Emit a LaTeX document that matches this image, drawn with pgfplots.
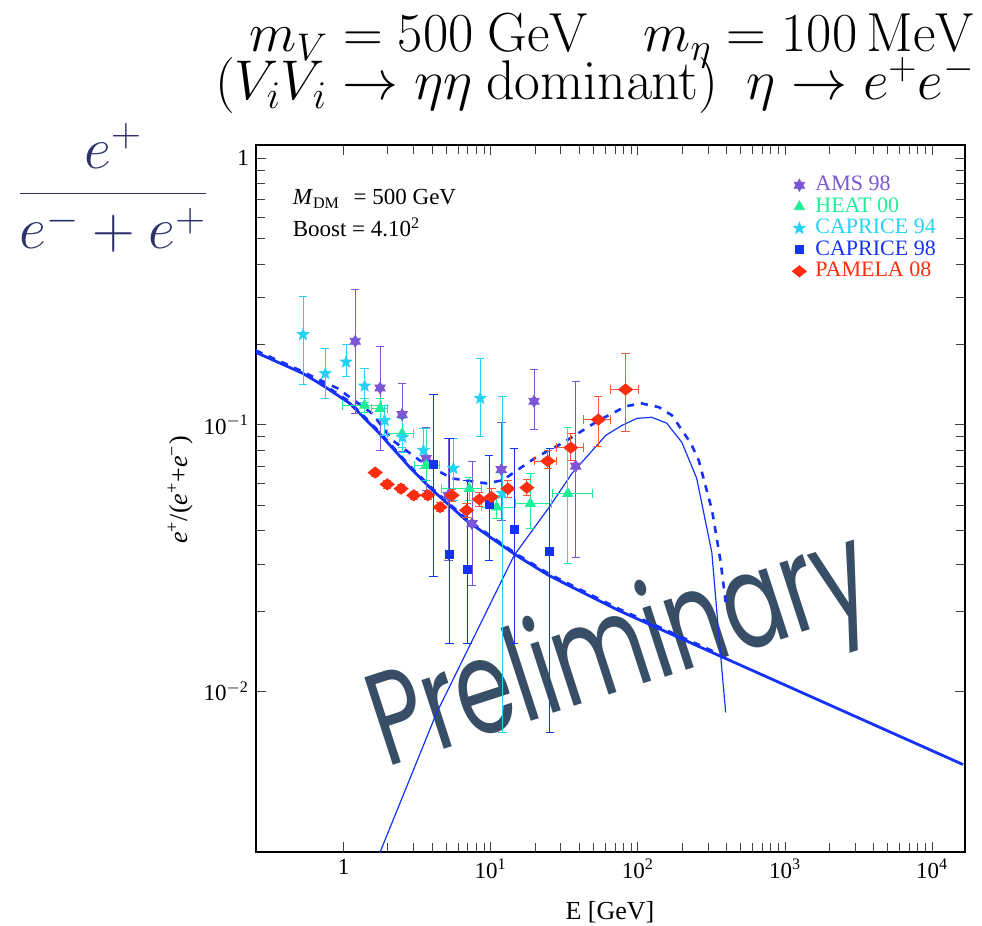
\RequirePackage{fix-cm}
\documentclass[border=0pt]{standalone}
\usepackage[no-math]{fontspec}
\setmainfont{Liberation Serif}
\newfontfamily\wmfont{Poppins}
\usepackage{pgfplots}
\pgfplotsset{compat=1.18}
\usepackage{pgfplotstable}

\definecolor{amsc}{RGB}{125,85,215}
\definecolor{heatc}{RGB}{30,238,150}
\definecolor{cap94}{RGB}{35,210,245}
\definecolor{cap98}{RGB}{20,50,250}
\definecolor{pamc}{RGB}{255,45,15}
\definecolor{pamerr}{RGB}{255,85,55}
\definecolor{curvec}{RGB}{20,50,250}
\definecolor{navy}{RGB}{45,50,105}
\definecolor{wm}{RGB}{55,78,102}

\pgfdeclareplotmark{hexstar}{%
  \pgfpathmoveto{\pgfqpoint{0pt}{\pgfplotmarksize}}%
  \pgfpathlineto{\pgfqpoint{0.866\pgfplotmarksize}{-0.5\pgfplotmarksize}}%
  \pgfpathlineto{\pgfqpoint{-0.866\pgfplotmarksize}{-0.5\pgfplotmarksize}}%
  \pgfpathclose
  \pgfpathmoveto{\pgfqpoint{0pt}{-\pgfplotmarksize}}%
  \pgfpathlineto{\pgfqpoint{-0.866\pgfplotmarksize}{0.5\pgfplotmarksize}}%
  \pgfpathlineto{\pgfqpoint{0.866\pgfplotmarksize}{0.5\pgfplotmarksize}}%
  \pgfpathclose
  \pgfusepathqfillstroke}
\pgfdeclareplotmark{fstar}{%
  \pgfpathmoveto{\pgfpointpolar{90}{\pgfplotmarksize}}%
  \pgfpathlineto{\pgfpointpolar{126}{0.42\pgfplotmarksize}}%
  \pgfpathlineto{\pgfpointpolar{162}{\pgfplotmarksize}}%
  \pgfpathlineto{\pgfpointpolar{198}{0.42\pgfplotmarksize}}%
  \pgfpathlineto{\pgfpointpolar{234}{\pgfplotmarksize}}%
  \pgfpathlineto{\pgfpointpolar{270}{0.42\pgfplotmarksize}}%
  \pgfpathlineto{\pgfpointpolar{306}{\pgfplotmarksize}}%
  \pgfpathlineto{\pgfpointpolar{342}{0.42\pgfplotmarksize}}%
  \pgfpathlineto{\pgfpointpolar{18}{\pgfplotmarksize}}%
  \pgfpathlineto{\pgfpointpolar{54}{0.42\pgfplotmarksize}}%
  \pgfpathclose
  \pgfusepathqfillstroke}
\pgfdeclareplotmark{pdiam}{%
  \pgfpathmoveto{\pgfqpoint{\pgfplotmarksize}{0pt}}%
  \pgfpathlineto{\pgfqpoint{0pt}{0.8\pgfplotmarksize}}%
  \pgfpathlineto{\pgfqpoint{-\pgfplotmarksize}{0pt}}%
  \pgfpathlineto{\pgfqpoint{0pt}{-0.8\pgfplotmarksize}}%
  \pgfpathclose
  \pgfusepathqfillstroke}

\pgfplotsset{
  lmark/.style={only marks, legend image code/.code={\draw[##1] plot coordinates {(0pt,0pt)};}},
  ebar/.style={/pgfplots/error bars/error bar style={line width=0.5pt, #1},
     /pgfplots/error bars/error mark options={rotate=90, mark size=2.1pt, line width=0.5pt, #1}},
}

% AMS 98
\pgfplotstableread{
x y ep em
1.20 0.2057 0.1158 0.0953
1.77 0.1374 0.0584 0.0572
2.50 0.1092 0.0336 0.0301
3.64 0.0748 0.0233 0.0180
5.15 0.0544 0.0343 0.0234
7.46 0.0426 0.0305 0.0176
11.8 0.0679 0.0340 0.0241
19.7 0.1225 0.0390 0.0266
37.8 0.0700 0.0747 0.0381
}\amsdata
% HEAT 00
\pgfplotstableread{
x y xp xm yp ym
1.39 0.1183 0.41 0.40 0.0074 0.0069
1.77 0.1150 0.23 0.22 0.0107 0.0092
2.50 0.0927 0.48 0.50 0.0131 0.0102
3.64 0.0705 0.84 0.61 0.0262 0.0086
7.15 0.0576 1.57 2.55 0.0061 0.0055
10.95 0.0491 3.48 2.23 0.0053 0.0046
18.6 0.0506 7.3 3.94 0.0153 0.0098
33.4 0.0552 16.1 7.2 0.0421 0.0249
}\heatdata
% CAPRICE 94
\pgfplotstableread{
x y ep em
0.530 0.2180 0.0855 0.0761
0.751 0.1556 0.0381 0.0299
1.04 0.1720 0.0285 0.0199
1.39 0.1398 0.0231 0.0183
1.90 0.1039 0.0144 0.0126
2.51 0.0898 0.0169 0.0110
3.49 0.0802 0.0168 0.0115
5.57 0.0687 0.0203 0.0166
8.49 0.1257 0.0520 0.0352
12.0 0.0553 0.0726 0.0483
}\capnfdata
% CAPRICE 98
\pgfplotstableread{
x y ep em
4.08 0.0709 0.0589 0.0439
5.23 0.0327 0.0560 0.0176
6.96 0.0286 0.0333 0.0135
9.77 0.0502 0.0266 0.0192
14.4 0.0404 0.0414 0.0253
25.2 0.0335 0.0483 0.0265
}\capnedata
% PAMELA 08
\pgfplotstableread{
x y xp xm yp ym
1.64 0.0662 0 0 0.002 0.002
1.98 0.0598 0 0 0.002 0.002
2.46 0.0576 0 0 0.002 0.002
3.00 0.0544 0 0 0.002 0.002
3.73 0.0544 0 0 0.002 0.002
4.53 0.0491 0 0 0.002 0.002
5.46 0.0544 0 0 0.003 0.003
6.85 0.0478 0 0 0.003 0.003
8.36 0.0525 0 0 0.003 0.003
10.1 0.0536 0 0 0.004 0.004
13.1 0.0576 0 0 0.004 0.004
17.6 0.0581 0 0 0.004 0.004
24.4 0.0731 3.7 4.7 0.0071 0.0046
35.0 0.0821 7.4 6.9 0.0106 0.0085
53.8 0.1046 11.5 11.4 0.0228 0.0216
82.5 0.1356 18.0 17.2 0.0494 0.0416
}\pamdata

\begin{document}
\begin{tikzpicture}
\useasboundingbox (-128pt,-37pt) rectangle (363pt,426pt);
% watermark (behind the plot)
\begin{scope}[shift={(65pt,42pt)}, rotate=18, xscale=0.7]
\node[transform shape, anchor=base west, inner sep=0pt, text=wm,
      font=\wmfont\fontsize{66}{66}\selectfont] at (0,0) {Preliminary};
\end{scope}

\begin{axis}[
  scale only axis, width=354.5pt, height=353.5pt,
  xmode=log, ymode=log,
  xmin=0.254, xmax=16700, ymin=0.0025, ymax=1.12,
  tick align=inside,
  major tick length=5pt, minor tick length=4.5pt,
  tick style={line width=0.5pt, color=black!75},
  axis line style={line width=0.6pt},
  xtick={1,10,100,1000,10000},
  xticklabels={1,10\textsuperscript{1},10\textsuperscript{2},10\textsuperscript{3},10\textsuperscript{4}},
  ytick={0.01,0.1,1},
  yticklabels={10\textsuperscript{$-$2},10\textsuperscript{$-$1},1},
  ticklabel style={font=\fontsize{11.5}{13}\selectfont},
  xlabel={E [GeV]},
  ylabel={\textit{e}\textsuperscript{+}/(\textit{e}\textsuperscript{+}+\textit{e}\textsuperscript{−})},
  label style={font=\fontsize{13}{15}\selectfont},
  xlabel style={at={(axis description cs:0.4993,-0.085)}, anchor=center},
  ylabel style={at={(axis description cs:-0.107,0.512)}, anchor=center},
  legend style={at={(axis description cs:0.756,0.957)}, anchor=north west,
     draw=none, fill=none, inner sep=0pt, row sep=1.25pt, column sep=4.5pt,
     font=\fontsize{11}{11}\selectfont,
     nodes={inner sep=0pt, text height=7.5pt, text depth=2pt}},
  legend cell align=left,
]
% curves
\addplot[forget plot, curvec, line width=1.3pt, dash pattern=on 3.5pt off 3.5pt] coordinates {
(0.253,0.1895) (0.527,0.1582) (0.721,0.1425) (1.10,0.1220) (1.75,0.0941)
(2.80,0.0704) (4.03,0.0575) (6.82,0.0444) (14.9,0.0328) (24.9,0.0276)
(74.3,0.0204) (354,0.01385)};
\addplot[forget plot, curvec, line width=1.4pt] coordinates {
(0.253,0.187) (0.527,0.156) (0.721,0.1406) (1.10,0.1204) (1.75,0.0929)
(2.80,0.0695) (4.03,0.0568) (6.82,0.0438) (14.9,0.0324) (24.9,0.0272)
(74.3,0.0201) (354,0.01365) (16200,0.00532)};
\addplot[forget plot, curvec, line width=1.3pt, dash pattern=on 3.5pt off 3.5pt] coordinates {
(0.253,0.190) (0.527,0.158) (0.91,0.137) (1.57,0.110) (2.15,0.0875)
(3.28,0.0736) (5.40,0.0630) (9.32,0.0603) (12.0,0.0619) (20.3,0.0755)
(30.5,0.0852) (54.4,0.104) (83.0,0.1173) (105,0.1204) (139,0.1164)
(170,0.1086) (229,0.0852) (259,0.0736) (319,0.0478) (364,0.031) (395,0.0216)};
\addplot[forget plot, curvec, line width=0.6pt] coordinates {
(1.72,0.0024) (4.27,0.00827) (7.97,0.01665) (14.43,0.0324) (24.9,0.049)
(35.7,0.0658) (60.7,0.0914) (78.0,0.0995) (98.5,0.1057) (124,0.1067)
(157,0.1014) (199,0.0859) (251,0.063) (318,0.0332) (354,0.0165) (395,0.00834)};

% data
\addplot[lmark, mark=hexstar, mark size=3pt, color=amsc,
  error bars/.cd, y dir=both, y explicit, /pgfplots/ebar=amsc]
  table[x=x, y=y, y error plus=ep, y error minus=em] {\amsdata};
\addlegendentry{\textcolor{amsc}{AMS 98}}
\addplot[lmark, mark=triangle*, mark size=2.9pt, color=heatc,
  error bars/.cd, y dir=both, y explicit, x dir=both, x explicit, /pgfplots/ebar=heatc]
  table[x=x, y=y, x error plus=xp, x error minus=xm, y error plus=yp, y error minus=ym] {\heatdata};
\addlegendentry{\textcolor{heatc}{HEAT 00}}
\addplot[lmark, mark=fstar, mark size=3pt, color=cap94,
  error bars/.cd, y dir=both, y explicit, /pgfplots/ebar=cap94]
  table[x=x, y=y, y error plus=ep, y error minus=em] {\capnfdata};
\addlegendentry{\textcolor{cap94}{CAPRICE 94}}
\addplot[lmark, mark=square*, mark size=2pt, color=cap98,
  error bars/.cd, y dir=both, y explicit, /pgfplots/ebar=cap98]
  table[x=x, y=y, y error plus=ep, y error minus=em] {\capnedata};
\addlegendentry{\textcolor{cap98}{CAPRICE 98}}
\addplot[lmark, mark=pdiam, mark size=3.5pt, color=pamc,
  error bars/.cd, y dir=both, y explicit, x dir=both, x explicit, /pgfplots/ebar=pamerr]
  table[x=x, y=y, x error plus=xp, x error minus=xm, y error plus=yp, y error minus=ym] {\pamdata};
\addlegendentry{\textcolor{pamc}{PAMELA 08}}
\end{axis}

% inset text
\node[anchor=base west, inner sep=0pt, font=\fontsize{11.5}{13}\selectfont] at (18.2pt,323.5pt)
  {\textit{M}\textsubscript{DM}\hspace{4pt} = 500 GeV};
\node[anchor=base west, inner sep=0pt, font=\fontsize{11.5}{13}\selectfont] at (18.2pt,307.7pt)
  {Boost = 4.10\textsuperscript{2}};
% title
\node[anchor=base east, inner sep=0pt, font=\fontsize{27.5}{32}\selectfont] at (359.5pt,400pt)
  {$m_V = 500\ \mathrm{GeV}\quad m_\eta = 100\,\mathrm{MeV}$};
\node[anchor=base east, inner sep=0pt, font=\fontsize{28}{32}\selectfont] at (359.5pt,376pt)
  {$(V_iV_i \to \eta\eta\ \mathrm{dominant})\ \ \eta\;{\to}\; e^+e^-$};
% left fraction
\node[inner sep=0pt, text=navy, font=\fontsize{29.5}{34}\selectfont] at (-71.5pt,332pt)
  {$\displaystyle\frac{e^+}{e^-+e^+}$};
\end{tikzpicture}
\end{document}
